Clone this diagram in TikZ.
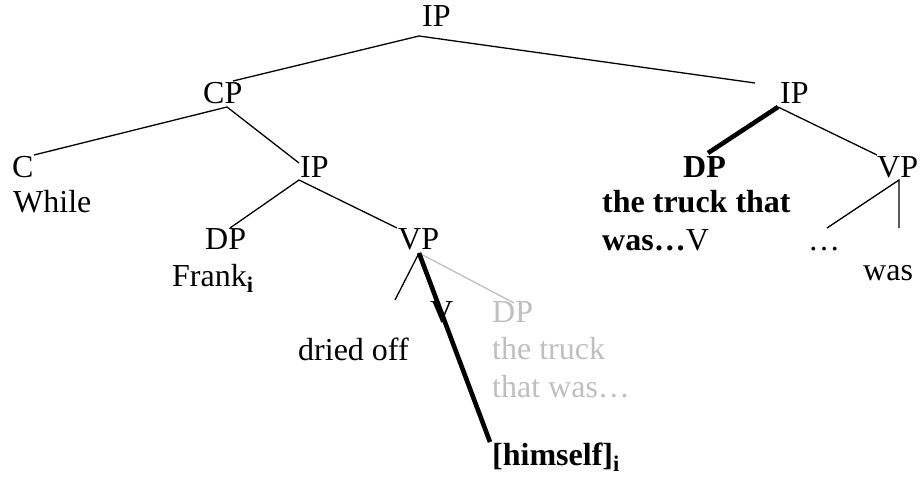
\documentclass[tikz,border=0pt]{standalone}
\usepackage{fontspec}
\setmainfont{Liberation Serif}
\tikzset{
  lbl/.style={anchor=base west, inner sep=0pt, align=left, font=\fontsize{32}{37.5}\selectfont},
  edge/.style={line width=1.3pt},
  hot/.style={line width=4.6pt},
  ghost/.style={line width=1.3pt, color=black!25}
}

\begin{document}
\begin{tikzpicture}[x=1pt, y=-1pt]
			%%%%% START %%%%%
			\useasboundingbox (0,0) rectangle (920,484);
			
			\node[lbl] (ipA) at (422, 27) {IP};
			\node[lbl] (cp) at (203, 103) {CP};
			\node[lbl] (c) at (12, 177) {C};
			\node[lbl] (while) at (13, 212) {While};
			\node[lbl] (ipB) at (300, 177) {IP};
			\node[lbl] (dpA) at (205, 249) {DP};
			\node[lbl] (frank) at (172, 286) {Frank\textsubscript{\textbf{i}}};
			\node[lbl] (vpA) at (398, 249) {VP};
			\node[lbl] (v) at (430, 322) {V};
			\node[lbl] (dried) at (298, 360) {dried off};
			% multi-line text sits on its last line
			\node[lbl, text=black!25] (dpB) at (492, 397) {DP\\the truck\\that was…};
			\node[lbl] (himself) at (492, 465) {\textbf{[himself]\textsubscript{i}}};
			
			\node[lbl] (ipC) at (780, 103) {IP};
			\node[lbl] (dpC) at (683, 177) {\textbf{DP}};
			\node[lbl] (truck) at (602, 250) {\textbf{the truck that}\\\textbf{was…}V};
			\node[lbl] (vpB) at (877, 177) {VP};
			\node[lbl] (dots) at (808, 250) {…};
			\node[lbl] (was) at (863, 280) {was};
			
			% joints of the branches
			\coordinate (ipA-b) at (419, 36);
			\coordinate (cp-t) at (233, 81);
			\coordinate (ipC-t) at (755, 83);
			\coordinate (cp-b) at (227, 107);
			\coordinate (c-t) at (34, 155);
			\coordinate (ipB-t) at (299, 163);
			\coordinate (ipB-b) at (299, 180);
			\coordinate (dpA-t) at (230, 228);
			\coordinate (vpA-t) at (397, 228);
			\coordinate (vpA-b) at (419, 253);
			\coordinate (v-t) at (395, 300);
			\coordinate (dpB-t) at (514, 303);
			\coordinate (himself-t) at (490, 442);
			\coordinate (ipC-b) at (778, 107);
			\coordinate (dpC-t) at (708, 153);
			\coordinate (vpB-t) at (877, 155);
			\coordinate (vpB-b) at (899, 180);
			\coordinate (dots-t) at (827, 228);
			\coordinate (was-t) at (899, 228);
			
			\draw[edge] (cp-t) -- (ipA-b) -- (ipC-t);
			\draw[edge] (c-t) -- (cp-b) -- (ipB-t);
			\draw[edge] (dpA-t) -- (ipB-b) -- (vpA-t);
			\draw[ghost] (vpA-b) -- (dpB-t);
			\draw[edge] (v-t) -- (vpA-b);
			\draw[hot] (vpA-b) -- (himself-t);
			
			\draw[hot] (ipC-b) -- (dpC-t);
			\draw[edge] (ipC-b) -- (vpB-t);
			\draw[edge] (dots-t) -- (vpB-b) -- (was-t);
			%%%%% END %%%%%
\end{tikzpicture}
\end{document}
